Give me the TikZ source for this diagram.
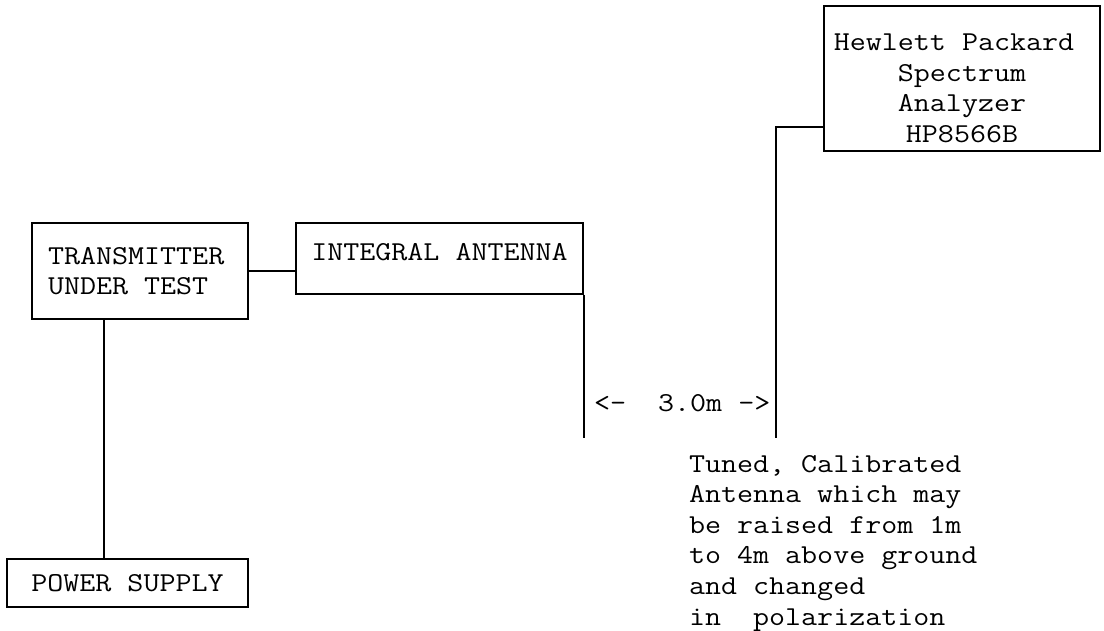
\documentclass[tikz,border=0pt]{standalone}
\usepackage{fontspec}
\setmonofont{Latin Modern Mono}[FakeStretch=1.14]
\usepackage{tikz}
\usetikzlibrary{positioning}

\newcommand{\monotext}{\ttfamily\fontsize{27.3}{30.6}\selectfont}

\begin{document}
\begin{tikzpicture}[x=1pt, y=-1pt, line width=2pt,
    box/.style={draw, rectangle, inner sep=0pt, font=\monotext}]

    \useasboundingbox (0,0) rectangle (1104,631);

    % units on the bench
    \node[box, minimum width=216, minimum height=96, text width=184, align=flush left] (tx) at (140,271) {TRANSMITTER\\UNDER TEST};
    \node[box, minimum width=287, minimum height=71, text depth=13pt] (ant) at (439.5,258.5) {INTEGRAL ANTENNA};
    \node[box, minimum width=241, minimum height=48] (psu) at (127.5,583) {POWER SUPPLY};
    \node[box, minimum width=276, minimum height=145, align=center, text height=128pt] (hp) at (962,78.5) {Hewlett Packard\phantom{x}\\Spectrum\\Analyzer\\HP8566B};

    \coordinate (txfoot) at (104,319);
    \coordinate (rxtop) at (776,127);
    \coordinate (rxfoot) at (776,438);

    \draw (tx.east) -- (tx.east -| ant.west);
    \draw (txfoot) -- (txfoot |- psu.north);
    \draw (ant.south east) -- (ant.south east |- rxfoot);
    \draw (hp.west |- rxtop) -- (rxtop) -- (rxfoot);

    % distance and receive antenna notes
    \node[anchor=base west, inner sep=0pt, font=\monotext] (dist) at (593,411) {<-\ \ 3.0m ->};
    \node[anchor=north west, inner sep=0pt, align=left, font=\monotext] (note) at (688,454)
        {Tuned, Calibrated\\Antenna which may\\be raised from 1m\\to 4m above ground\\and changed\\in\ \ polarization};

\end{tikzpicture}
\end{document}
